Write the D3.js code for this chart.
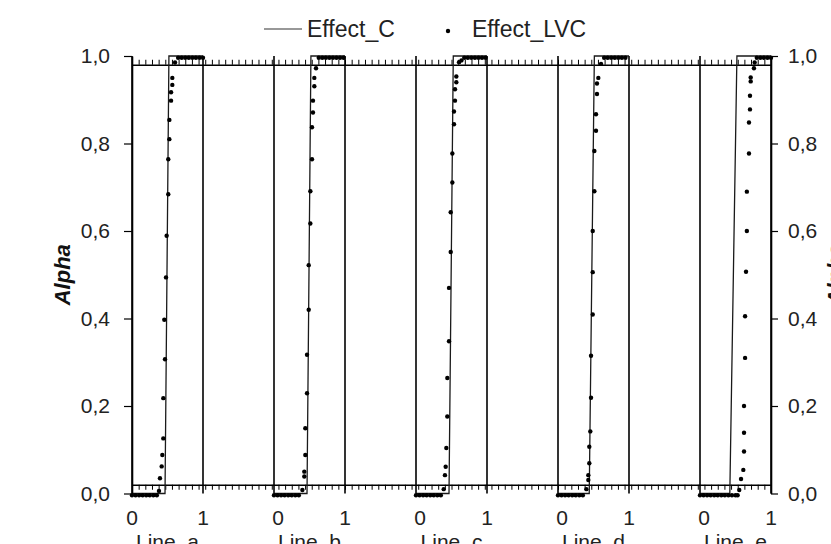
<!DOCTYPE html>
<html>
<head>
<meta charset="utf-8">
<script src="https://cdn.jsdelivr.net/npm/d3@7"></script>
<style>
  body { margin: 0; background: #fff; }
  svg { display: block; font-family: "Liberation Sans", Arial, sans-serif; }
</style>
</head>
<body>
<svg id="chart"></svg>
<script>
// categories / tick labels
var lines = ["Line_a", "Line_b", "Line_c", "Line_d", "Line_e"];
var alphaTicks = [0, 0.2, 0.4, 0.6, 0.8, 1.0];
var posTicks = [0, 1];

// Effect_C : position in the line -> alpha
var effC_alpha = [0, 0, 1, 1];
var effC_a = [0, 0.465, 0.52, 1];
var effC_b = [0, 0.465, 0.52, 1];
var effC_c = [0, 0.465, 0.525, 1];
var effC_d = [0, 0.44, 0.512, 1];
var effC_e = [0, 0.42, 0.52, 1];

// Effect_LVC : [position, alpha]
var lvc_a = [[0,-0.004],[0.05,-0.004],[0.1,-0.004],[0.15,-0.004],[0.2,-0.004],[0.25,-0.004],[0.3,-0.004],[0.35,-0.004],[0.38,0.006],
  [0.394,0.035],[0.418,0.062],[0.427,0.088],[0.441,0.126],[0.441,0.218],[0.465,0.307],[0.455,0.397],[0.479,0.494],[0.488,0.589],
  [0.511,0.684],[0.511,0.764],[0.526,0.81],[0.526,0.854],[0.55,0.898],[0.55,0.917],[0.568,0.934],[0.568,0.95],[0.606,0.985],
  [0.65,0.996],[0.7,0.996],[0.75,0.996],[0.8,0.996],[0.85,0.996],[0.9,0.996],[0.95,0.996],[1,0.996]];
var lvc_b = [[0,-0.004],[0.05,-0.004],[0.1,-0.004],[0.15,-0.004],[0.2,-0.004],[0.25,-0.004],[0.3,-0.004],[0.35,-0.004],[0.4,0.008],
  [0.427,0.039],[0.427,0.05],[0.441,0.088],[0.441,0.149],[0.465,0.229],[0.465,0.317],[0.489,0.42],[0.489,0.522],[0.512,0.617],
  [0.512,0.691],[0.535,0.764],[0.535,0.837],[0.549,0.871],[0.549,0.898],[0.568,0.931],[0.568,0.95],[0.592,0.972],
  [0.63,0.996],[0.68,0.996],[0.73,0.996],[0.78,0.996],[0.83,0.996],[0.88,0.996],[0.93,0.996],[0.98,0.996]];
var lvc_c = [[0,-0.004],[0.05,-0.004],[0.1,-0.004],[0.15,-0.004],[0.2,-0.004],[0.25,-0.004],[0.3,-0.004],[0.35,-0.004],[0.39,0.01],
  [0.408,0.042],[0.418,0.061],[0.427,0.104],[0.441,0.176],[0.441,0.264],[0.465,0.348],[0.465,0.47],[0.489,0.552],[0.489,0.643],
  [0.512,0.711],[0.512,0.777],[0.535,0.844],[0.535,0.873],[0.549,0.898],[0.549,0.924],[0.568,0.94],[0.568,0.953],
  [0.606,0.986],[0.64,0.99],[0.68,0.996],[0.73,0.996],[0.78,0.996],[0.83,0.996],[0.88,0.996],[0.93,0.996],[0.98,0.996]];
var lvc_d = [[0,-0.004],[0.05,-0.004],[0.1,-0.004],[0.15,-0.004],[0.2,-0.004],[0.25,-0.004],[0.3,-0.004],[0.35,-0.004],[0.4,0.01],
  [0.427,0.031],[0.427,0.042],[0.441,0.069],[0.441,0.107],[0.455,0.142],[0.465,0.219],[0.465,0.315],[0.489,0.409],[0.489,0.506],
  [0.489,0.6],[0.512,0.691],[0.512,0.783],[0.535,0.829],[0.535,0.867],[0.549,0.913],[0.549,0.937],[0.568,0.95],[0.606,0.982],
  [0.65,0.996],[0.7,0.996],[0.75,0.996],[0.8,0.996],[0.85,0.996],[0.9,0.996],[0.95,0.996]];
var lvc_e = [[0,-0.004],[0.05,-0.004],[0.1,-0.004],[0.15,-0.004],[0.2,-0.004],[0.25,-0.004],[0.3,-0.004],[0.35,-0.004],[0.4,-0.004],
  [0.45,-0.004],[0.5,-0.004],[0.53,-0.004],[0.553,0.008],[0.578,0.033],[0.61,0.054],[0.62,0.096],[0.62,0.139],[0.62,0.2],
  [0.635,0.31],[0.635,0.405],[0.648,0.507],[0.66,0.6],[0.66,0.69],[0.69,0.777],[0.69,0.848],[0.704,0.878],[0.704,0.909],
  [0.714,0.942],[0.714,0.951],[0.76,0.972],[0.77,0.985],[0.8,0.996],[0.85,0.996],[0.9,0.996],[0.95,0.996],[1,0.996]];

var effC = [effC_a, effC_b, effC_c, effC_d, effC_e];
var lvc = [lvc_a, lvc_b, lvc_c, lvc_d, lvc_e];

var width = 831, height = 544;
var svg = d3.select("#chart").attr("width", width).attr("height", height);

// main scales
var y = d3.scaleLinear().domain([0, 1]).range([493.5, 56]);
// every line takes one unit, followed by one unit of gap
var xOuter = d3.scaleLinear().domain([0, 9]).range([132, 771]);
var xMinor = d3.scaleLinear().domain([0, 96]).range([132, 771]);
function px(k, v) { return xOuter(2 * k + v); }

var fmt = function(d) { return d.toFixed(1).replace(".", ","); };

// minor tick axes at 0.02 and 0.98
var minorVals = d3.range(0, 97);
svg.append("g")
    .attr("class", "minor")
    .attr("transform", "translate(0," + y(0.98) + ")")
    .call(d3.axisTop(xMinor).tickValues(minorVals).tickFormat("").tickSize(5).tickSizeOuter(0));
svg.append("g")
    .attr("class", "minor")
    .attr("transform", "translate(0," + y(0.02) + ")")
    .call(d3.axisBottom(xMinor).tickValues(minorVals).tickFormat("").tickSize(5).tickSizeOuter(0));

// frames of each line (x = 0 and x = 1)
lines.forEach(function(name, k) {
    [0, 1].forEach(function(v) {
        svg.append("line")
            .attr("x1", px(k, v)).attr("x2", px(k, v))
            .attr("y1", y(0)).attr("y2", y(1))
            .attr("stroke", "#000").attr("stroke-width", 1.6);
    });
});

// Effect_C lines
var lineGen = d3.line()
    .x(function(d) { return px(d.k, d.x); })
    .y(function(d) { return y(d.a); });
effC.forEach(function(xs, k) {
    var pts = xs.map(function(xv, i) { return {k: k, x: xv, a: effC_alpha[i]}; });
    svg.append("path")
        .datum(pts)
        .attr("d", lineGen)
        .attr("fill", "none")
        .attr("stroke", "#1a1a1a")
        .attr("stroke-width", 1.3);
});

// Effect_LVC points
lvc.forEach(function(pts, k) {
    svg.append("g").selectAll("circle")
        .data(pts)
        .enter().append("circle")
        .attr("cx", function(d) { return px(k, d[0]); })
        .attr("cy", function(d) { return y(d[1]); })
        .attr("r", 2.2)
        .attr("fill", "#000");
});

// left and right alpha axes
var left = svg.append("g")
    .attr("transform", "translate(" + xOuter(0) + ",0)")
    .call(d3.axisLeft(y).tickValues(alphaTicks).tickFormat(fmt).tickSize(8).tickSizeOuter(0).tickPadding(14));
var right = svg.append("g")
    .attr("transform", "translate(" + xOuter(9) + ",0)")
    .call(d3.axisRight(y).tickValues(alphaTicks).tickFormat(fmt).tickSize(7).tickSizeOuter(0).tickPadding(10));
[left, right].forEach(function(g) {
    g.select(".domain").attr("stroke", "#000").attr("stroke-width", 1.6);
    g.selectAll(".tick line").attr("stroke", "#000").attr("stroke-width", 1.2);
    g.selectAll(".tick text").attr("font-size", 21).attr("fill", "#222")
        .attr("font-family", "Liberation Sans, Arial, sans-serif");
});
svg.selectAll(".minor .domain").attr("stroke", "#000").attr("stroke-width", 1.3);
svg.selectAll(".minor .tick line").attr("stroke", "#000").attr("stroke-width", 1);

// position labels 0 / 1 and line names
lines.forEach(function(name, k) {
    posTicks.forEach(function(v) {
        svg.append("text")
            .attr("x", px(k, v) + (v === 0 && k > 0 ? 4 : 0))
            .attr("y", 525)
            .attr("text-anchor", "middle")
            .attr("font-size", 21).attr("fill", "#222")
            .text(v);
    });
    svg.append("text")
        .attr("x", px(k, 0.5))
        .attr("y", 549)
        .attr("text-anchor", "middle")
        .attr("font-size", 21).attr("fill", "#222")
        .text(name);
});

// axis titles
svg.append("text")
    .attr("transform", "translate(70," + y(0.5) + ") rotate(-90)")
    .attr("text-anchor", "middle")
    .attr("font-size", 22).attr("font-weight", "bold").attr("font-style", "italic")
    .attr("fill", "#111")
    .text("Alpha");
svg.append("text")
    .attr("transform", "translate(843," + y(0.5) + ") rotate(-90)")
    .attr("text-anchor", "middle")
    .attr("font-size", 22).attr("font-weight", "bold").attr("font-style", "italic")
    .attr("fill", "#111")
    .text("Alpha");

// legend
var leg = svg.append("g");
leg.append("line")
    .attr("x1", 264).attr("x2", 302).attr("y1", 29).attr("y2", 29)
    .attr("stroke", "#333").attr("stroke-width", 1.2);
leg.append("text")
    .attr("x", 307).attr("y", 37)
    .attr("font-size", 23).attr("fill", "#222")
    .text("Effect_C");
leg.append("circle")
    .attr("cx", 448).attr("cy", 31).attr("r", 2.2).attr("fill", "#000");
leg.append("text")
    .attr("x", 472).attr("y", 37)
    .attr("font-size", 23).attr("fill", "#222")
    .text("Effect_LVC");
</script>
</body>
</html>
